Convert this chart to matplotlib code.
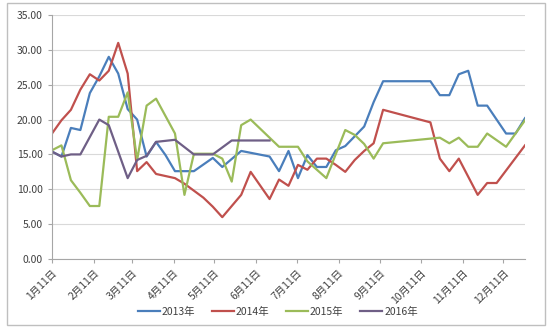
import matplotlib.pyplot as plt
from matplotlib.patches import Rectangle

plt.rcParams['font.family'] = ['Noto Sans CJK SC', 'DejaVu Sans']

# 周序号（从1月11日起，每周一个点）和各年价格
weeks_2013 = [0, 1, 2, 3, 4, 5, 6, 7, 8, 9, 10, 11, 12, 13, 15, 17, 18, 20, 23, 24,
              25, 26, 27, 28, 29, 30, 31, 33, 34, 35, 40, 41, 42, 43, 44, 45, 46, 48, 49, 50]
vals_2013 = [15.4, 14.7, 18.8, 18.5, 23.8, 26.2, 29.0, 26.6, 21.5, 20.0, 14.7, 16.8, 14.9, 12.6,
             12.6, 14.5, 13.2, 15.5, 14.7, 12.6, 15.5, 11.6, 14.9, 13.2, 13.2, 15.6, 16.2, 19.0,
             22.5, 25.5, 25.5, 23.5, 23.5, 26.5, 27.0, 22.0, 22.0, 18.0, 18.0, 20.2]

weeks_2014 = [0, 1, 2, 3, 4, 5, 6, 7, 8, 9, 10, 11, 13, 14, 16, 17, 18, 19, 20, 21, 23,
              24, 25, 26, 27, 28, 29, 30, 31, 32, 33, 34, 35, 40, 41, 42, 43, 45, 46, 47, 50]
vals_2014 = [18.0, 19.9, 21.4, 24.3, 26.5, 25.6, 27.0, 31.0, 26.6, 12.6, 13.9, 12.2, 11.6,
             10.8, 8.8, 7.5, 6.0, 7.6, 9.2, 12.5, 8.6, 11.4, 10.5, 13.5, 12.8, 14.4, 14.4,
             13.5, 12.5, 14.2, 15.5, 16.6, 21.4, 19.6, 14.4, 12.6, 14.4, 9.2, 10.9, 10.9, 16.3]

weeks_2015 = [0, 1, 2, 3, 4, 5, 6, 7, 8, 9, 10, 11, 13, 14, 15, 17, 18, 19, 20, 21, 24,
              26, 27, 28, 29, 31, 32, 33, 34, 35, 41, 42, 43, 44, 45, 46, 48, 50]
vals_2015 = [15.6, 16.3, 11.3, 9.5, 7.6, 7.6, 20.4, 20.4, 23.9, 14.2, 22.0, 23.0, 18.0, 9.2,
             15.1, 15.1, 14.4, 11.1, 19.2, 20.0, 16.1, 16.1, 14.0, 12.8, 11.6, 18.5, 17.8,
             16.5, 14.4, 16.6, 17.4, 16.6, 17.4, 16.1, 16.1, 18.0, 16.1, 19.9]

weeks_2016 = [0, 1, 2, 3, 5, 6, 8, 9, 10, 11, 13, 15, 17, 19, 23]
vals_2016 = [15.4, 14.7, 15.0, 15.0, 20.0, 19.2, 11.6, 14.2, 14.8, 16.8, 17.1, 15.0, 15.0,
             17.0, 17.0]

# 月份刻度（距1月11日的天数）
tick_days = [0, 31, 59, 90, 120, 151, 181, 212, 243, 273, 304, 334]
tick_labels = [f'{m}月11日' for m in range(1, 13)]

series = [
    ('2013年', weeks_2013, vals_2013, '#4a7ebb'),
    ('2014年', weeks_2014, vals_2014, '#c0504d'),
    ('2015年', weeks_2015, vals_2015, '#9bbb59'),
    ('2016年', weeks_2016, vals_2016, '#6f5f86'),
]

fig = plt.figure(figsize=(5.5, 3.3), dpi=100)
ax = fig.add_axes([52 / 550, 71 / 330, 473 / 550, 244 / 330])

for name, wk, vals, color in series:
    days = [7 * w for w in wk]
    ax.plot(days, vals, color=color, lw=1.6, label=name, solid_joinstyle='round')

ax.set_xlim(0, 350)
ax.set_ylim(0, 35)
ax.set_yticks(range(0, 36, 5))
ax.set_yticklabels([f'{v:.2f}' for v in range(0, 36, 5)])
ax.set_xticks(tick_days)
ax.set_xticklabels(tick_labels, rotation=45, ha='right', rotation_mode='anchor')

ax.grid(axis='y', color='#d9d9d9', lw=0.8)
ax.set_axisbelow(True)
for side in ['top', 'right']:
    ax.spines[side].set_visible(False)
for side in ['left', 'bottom']:
    ax.spines[side].set_color('#a6a6a6')
    ax.spines[side].set_linewidth(0.8)
ax.tick_params(axis='both', colors='#a6a6a6', labelcolor='#404040', labelsize=7.5,
               length=3, width=0.8)
ax.tick_params(axis='x', pad=3)

fig.legend(loc='center', bbox_to_anchor=(0.505, 0.055), ncol=4, frameon=False,
           fontsize=7.5, handlelength=2.1, handletextpad=0.2, columnspacing=1.6,
           labelcolor='#404040')

# 图表外框
fig.patches.append(Rectangle((7 / 550, 5 / 330), 538 / 550, 322 / 330,
                             transform=fig.transFigure, fill=False,
                             edgecolor='#bfbfbf', lw=1.0))

fig.savefig('out.png', dpi=100)
